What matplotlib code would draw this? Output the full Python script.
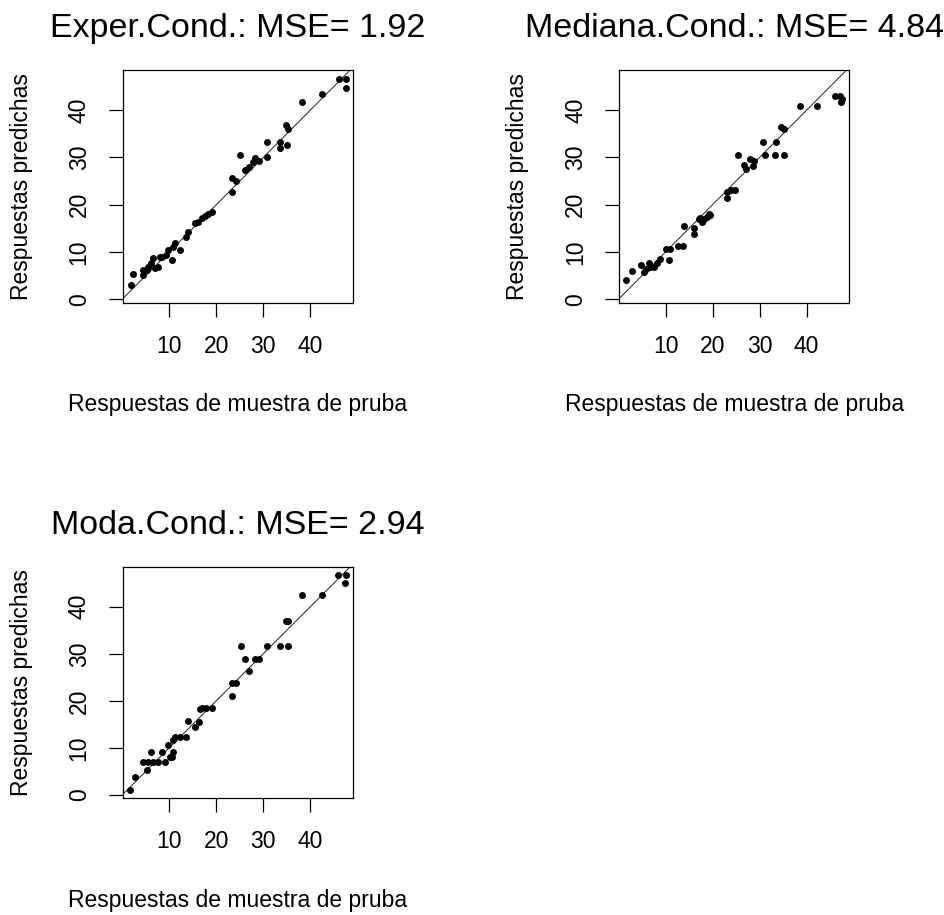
import matplotlib
matplotlib.use("Agg")
import matplotlib.pyplot as plt

plt.rcParams['font.family'] = ['Liberation Sans', 'DejaVu Sans']

# Exper.Cond. panel: test responses vs predicted
x_exper = [46.2, 47.7, 47.5, 42.4, 38.2, 34.8, 35.3, 33.5, 33.5, 35.1, 30.9, 30.9,
           25.0, 28.2, 29.1, 27.9, 26.2, 26.95, 23.3, 24.3, 23.3, 19.0, 18.3, 17.6,
           16.9, 16.2, 15.5, 14.0, 13.5, 12.3, 11.2, 10.9, 9.8, 10.5, 9.4, 8.4, 8.0,
           6.6, 6.2, 7.7, 5.5, 4.5, 4.5, 2.3, 1.8, 5.2, 6.95]
y_exper = [46.7, 46.7, 44.7, 43.5, 41.8, 36.8, 36.1, 33.3, 32.1, 32.6, 33.3, 30.1,
           30.6, 29.8, 29.2, 29.1, 27.3, 27.9, 25.6, 25.1, 22.6, 18.5, 18.0, 17.6,
           17.1, 16.4, 16.1, 14.3, 13.2, 10.4, 11.8, 11.1, 10.4, 8.3, 9.4, 9.0, 9.0,
           8.7, 7.6, 6.9, 6.9, 6.2, 5.1, 5.3, 3.0, 6.2, 6.55]

# Mediana.Cond. panel
x_mediana = [46.0, 47.2, 47.6, 47.4, 42.3, 38.5, 34.5, 35.3, 33.4, 30.8, 31.2, 33.3,
             35.1, 25.4, 28.0, 28.8, 28.7, 26.6, 27.1, 23.1, 23.9, 24.8, 23.1, 19.5,
             18.8, 17.4, 17.8, 17.1, 18.1, 19.2, 16.0, 16.0, 14.0, 13.7, 12.6, 10.9,
             10.0, 10.7, 8.8, 8.2, 7.5, 6.8, 6.5, 5.8, 5.4, 4.7, 2.9, 1.7]
y_mediana = [43.0, 43.0, 42.3, 41.8, 40.9, 40.9, 36.5, 36.0, 33.3, 33.3, 30.6, 30.6,
             30.6, 30.6, 29.6, 29.2, 28.2, 28.4, 27.5, 22.7, 23.1, 23.1, 21.5, 17.8,
             17.5, 17.1, 16.4, 16.9, 16.9, 18.0, 15.0, 13.9, 15.4, 11.3, 11.3, 10.6,
             10.6, 8.3, 8.5, 7.6, 6.9, 6.9, 7.6, 6.5, 5.8, 7.3, 6.0, 4.1]

# Moda.Cond. panel
x_moda = [46.0, 47.7, 47.4, 42.4, 38.2, 34.8, 35.3, 33.5, 35.3, 30.9, 25.2, 28.2,
          29.1, 26.2, 27.0, 23.3, 24.3, 23.3, 19.0, 17.9, 16.9, 16.5, 16.4, 15.5,
          14.0, 13.5, 12.3, 11.2, 10.9, 9.8, 10.9, 10.5, 10.1, 8.4, 6.2, 9.1, 7.7,
          6.6, 5.5, 4.5, 5.2, 2.7, 1.6]
y_moda = [46.7, 46.7, 45.0, 42.4, 42.5, 37.0, 37.0, 31.7, 31.7, 31.7, 31.7, 29.0,
          29.0, 29.0, 26.3, 23.7, 23.7, 21.0, 18.4, 18.4, 18.4, 18.3, 15.6, 14.5,
          15.8, 12.4, 12.4, 12.4, 11.7, 10.6, 9.2, 8.1, 8.1, 9.2, 9.2, 6.9, 6.9,
          6.9, 6.9, 6.9, 5.3, 3.9, 1.1]

titles = ['Exper.Cond.: MSE= 1.92', 'Mediana.Cond.: MSE= 4.84', 'Moda.Cond.: MSE= 2.94']
xlabel = 'Respuestas de muestra de pruba'
ylabel = 'Respuestas predichas'
xticks = [10, 20, 30, 40]
yticks = [0, 10, 20, 30, 40]

panels = [(x_exper, y_exper), (x_mediana, y_mediana), (x_moda, y_moda)]
boxes = [[0.1298, 0.6692, 0.2438, 0.2543],
         [0.6550, 0.6692, 0.2438, 0.2543],
         [0.1298, 0.1275, 0.2438, 0.2531]]

fig = plt.figure(figsize=(9.45, 9.15), dpi=100)

for (xs, ys), title, box in zip(panels, titles, boxes):
    ax = fig.add_axes(box)
    ax.scatter(xs, ys, s=25, c='black', linewidths=0, zorder=3)
    ax.axline((0, 0), slope=1, color='#222222', lw=0.7)  # y = x
    ax.set_xlim(0.1, 49.1)
    ax.set_ylim(-0.72, 48.5)
    ax.set_xticks(xticks)
    ax.set_yticks(yticks)
    ax.tick_params(length=10, width=0.9, colors='black', labelsize=16.5, pad=13)
    ax.tick_params(axis='y', labelrotation=90)
    for lab in ax.get_yticklabels():
        lab.set_va('center')
    for sp in ax.spines.values():
        sp.set_linewidth(0.9)
        sp.set_color('black')
    ax.set_title(title, fontsize=24.5, pad=23.5, color='black')
    ax.set_xlabel(xlabel, fontsize=16.5)
    ax.set_ylabel(ylabel, fontsize=16.5)
    ax.xaxis.set_label_coords(0.5, -0.39)
    ax.yaxis.set_label_coords(-0.389, 0.5)

fig.savefig('out.png', dpi=100)
